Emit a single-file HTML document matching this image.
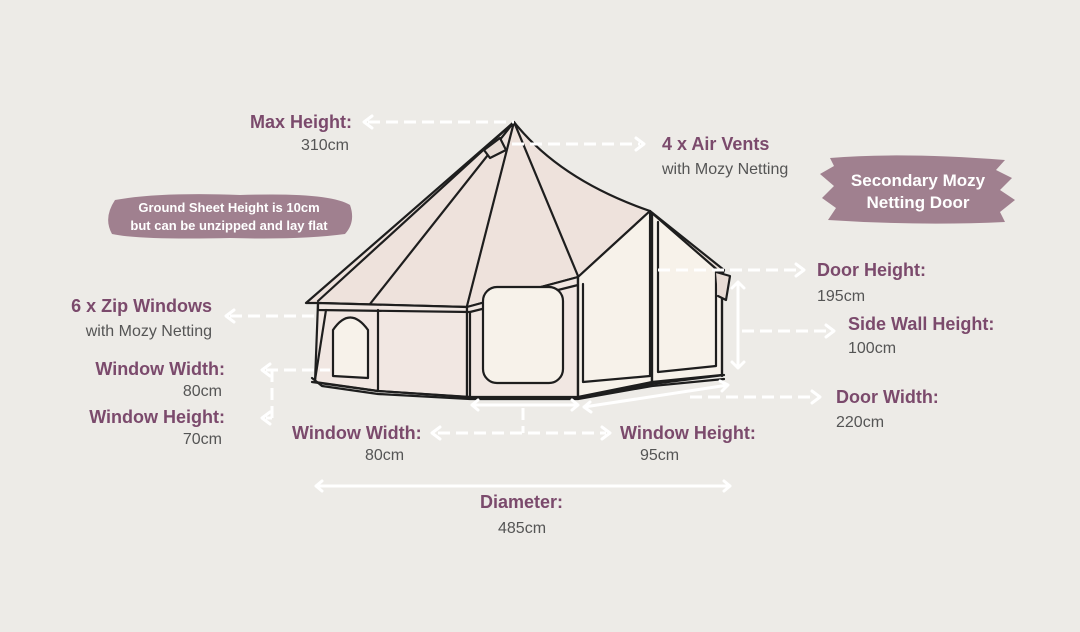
<!DOCTYPE html>
<html><head><meta charset="utf-8"><style>
html,body{margin:0;padding:0;background:#edebe7;}
svg{display:block}
.b{font-family:"Liberation Sans",sans-serif;font-weight:bold;font-size:18px;fill:#7b4a6c}
.g{font-family:"Liberation Sans",sans-serif;font-size:16px;fill:#555}
.w{font-family:"Liberation Sans",sans-serif;font-weight:bold;fill:#fff}
.d{stroke:#fff;stroke-width:3;stroke-dasharray:12 6;fill:none}
.a{stroke:#fff;stroke-width:3;fill:none;stroke-linecap:round;stroke-linejoin:round}
.t{stroke:#1e1e1e;stroke-width:2.2;stroke-linejoin:round;stroke-linecap:round}
</style></head><body>
<svg width="1080" height="632" viewBox="0 0 1080 632">
<rect width="1080" height="632" fill="#edebe7"/>
<path d="M115,200 Q160,192 240,195 Q330,192 350,205 Q356,222 345,234 Q300,240 230,238 Q140,240 112,234 Q103,218 115,200Z" fill="#a0808f"/>
<path d="M830,158 Q900,152 1005,160 L996,170 L1012,178 L1000,190 L1015,200 L1000,212 L1005,222 Q920,226 828,220 L836,208 L822,198 L834,186 L820,174 L834,166Z" fill="#a0808f"/>
<text class="w" font-size="13" x="229" y="212" text-anchor="middle">Ground Sheet Height is 10cm</text>
<text class="w" font-size="13" x="229" y="230" text-anchor="middle">but can be unzipped and lay flat</text>
<text class="w" font-size="17" x="918" y="186" text-anchor="middle">Secondary Mozy</text>
<text class="w" font-size="17" x="918" y="208" text-anchor="middle">Netting Door</text>

<g class="t">
<path d="M514,122 L306,303 L318,303 L467,307 L578,277 L650,211 Q560,180 514,122Z" fill="#eee2dc"/>
<path d="M650,211 L724,270 L722,276 L652,218Z" fill="#e8dcd5"/>
<path d="M514,122 L318,301 M514,122 L370,304 M514,122 L467,306 M514,122 L578,276" fill="none"/>
<path d="M484,150 L500,138 L506,150 L490,158Z" fill="#e8dcd5"/>
<path d="M318,303 L467,307 L467,397 L378,391 L315,382Z" fill="#f1e7e2"/>
<path d="M467,307 L578,277 L578,397 L467,397Z" fill="#f1e7e2"/>
<path d="M578,277 L650,211 L652,382 L578,397Z" fill="#f7f2ea"/>
<path d="M652,213 L722,274 L722,375 L652,382Z" fill="#f7f2ea"/>
<path d="M318,303 L318,310 L470,312 L578,285 L578,277" fill="none"/>
<path d="M326,310 L315,380 M378,310 L378,391 M470,312 L470,397 M578,285 L578,397 M583,284 L583,382 L650,376 L650,220 M658,222 L658,372 L716,366 L716,272 M652,213 L652,382 M722,270 L722,376" fill="none"/>
<path d="M312,382 L378,391 L470,397 L578,398 L652,384 L724,375" fill="none"/>
<path d="M312,378 L322,386 L378,394 L470,399 L578,399 L652,386 L724,379" fill="none"/>
<rect x="483" y="287" width="80" height="96" rx="14" fill="#f7f2ea"/>
<path d="M333,376 L333,330 Q350,305 368,330 L368,378Z" fill="#f7f2ea"/>
<path d="M716,272 L730,276 L726,300 L718,296" fill="#e8dcd5"/>
</g>

<g>
<path class="d" d="M368,122 L514,122"/><path class="a" d="M372,116 L364,122 L372,128"/>
<path class="d" d="M512,144 L640,144"/><path class="a" d="M636,138 L644,144 L636,150"/>
<path class="d" d="M658,270 L800,270"/><path class="a" d="M796,264 L804,270 L796,276"/>
<path class="d" d="M742,331 L830,331"/><path class="a" d="M826,325 L834,331 L826,337"/>
<path class="a" d="M738,282 L738,368 M732,288 L738,282 L744,288 M732,362 L738,368 L744,362"/>
<path class="d" d="M690,397 L816,397"/><path class="a" d="M812,391 L820,397 L812,403"/>
<path class="a" d="M584,407 L728,385 M590,402 L584,407 L591,412 M720,381 L728,385 L722,391"/>
<path class="d" d="M230,316 L318,316"/><path class="a" d="M234,310 L226,316 L234,322"/>
<path class="d" d="M266,370 L330,370"/><path class="a" d="M270,364 L262,370 L270,376"/>
<path class="d" d="M272,370 L272,418 M266,418 L272,418"/><path class="a" d="M270,412 L262,418 L270,424"/>
<path class="a" d="M472,405 L578,405 M478,400 L472,405 L478,410 M572,400 L578,405 L572,410"/>
<path class="d" d="M523,408 L523,433 M438,433 L606,433"/>
<path class="a" d="M440,427 L432,433 L440,439 M602,427 L610,433 L602,439"/>
<path class="a" d="M316,486 L730,486 M322,481 L316,486 L322,491 M724,481 L730,486 L724,491"/>
</g>

<text class="b" x="352" y="128" text-anchor="end">Max Height:</text>
<text class="g" x="349" y="150" text-anchor="end">310cm</text>
<text class="b" x="662" y="150">4 x Air Vents</text>
<text class="g" x="662" y="174">with Mozy Netting</text>
<text class="b" x="817" y="276">Door Height:</text>
<text class="g" x="817" y="301">195cm</text>
<text class="b" x="848" y="330">Side Wall Height:</text>
<text class="g" x="848" y="353">100cm</text>
<text class="b" x="836" y="403">Door Width:</text>
<text class="g" x="836" y="427">220cm</text>
<text class="b" x="620" y="439">Window Height:</text>
<text class="g" x="640" y="460">95cm</text>
<text class="b" x="292" y="439">Window Width:</text>
<text class="g" x="365" y="460">80cm</text>
<text class="b" x="480" y="508">Diameter:</text>
<text class="g" x="498" y="533">485cm</text>
<text class="b" x="212" y="312" text-anchor="end">6 x Zip Windows</text>
<text class="g" x="212" y="336" text-anchor="end">with Mozy Netting</text>
<text class="b" x="225" y="375" text-anchor="end">Window Width:</text>
<text class="g" x="222" y="396" text-anchor="end">80cm</text>
<text class="b" x="225" y="423" text-anchor="end">Window Height:</text>
<text class="g" x="222" y="444" text-anchor="end">70cm</text>
</svg>
</body></html>
